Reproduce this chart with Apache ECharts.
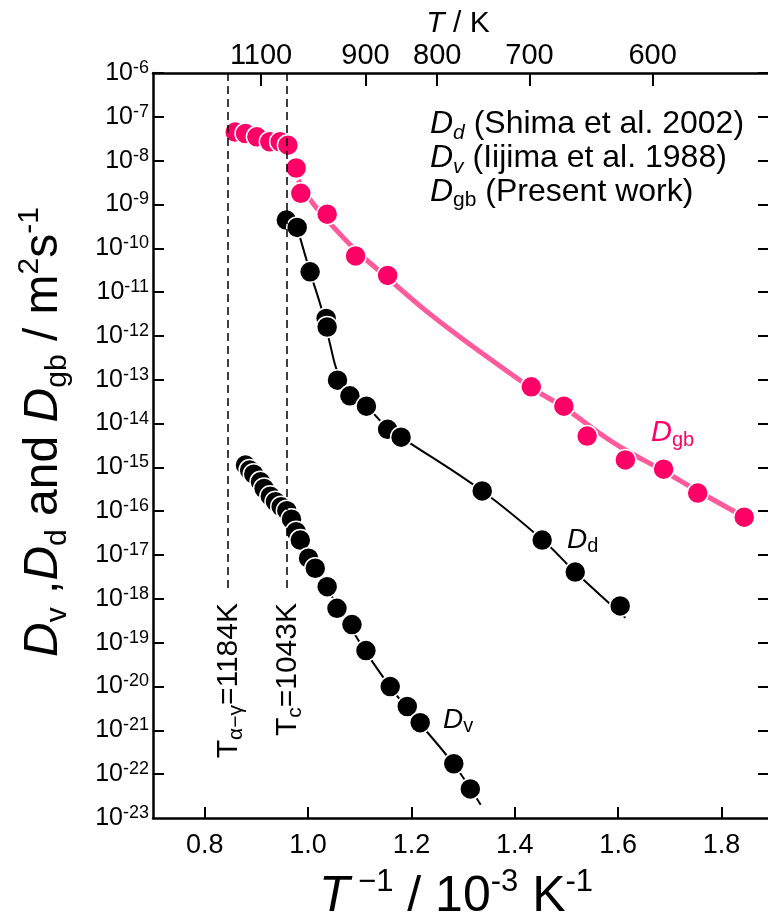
<!DOCTYPE html>
<html>
<head>
<meta charset="utf-8">
<script src="https://cdn.jsdelivr.net/npm/echarts@6/dist/echarts.min.js"></script>
<style>
  html, body { margin: 0; padding: 0; background: #fff; }
  #chart { width: 768px; height: 923px; }
</style>
</head>
<body>
<div id="chart"></div>
<script>
var FONT = '"Liberation Sans", Arial, sans-serif';
var PINK = '#ff0066';
var PINK_LINE = '#ff5a9c';

// x: T^-1 in 10^-3 K^-1, y: D in m^2/s

// D_gb (present work)
var gbX = [0.859, 0.879, 0.901, 0.926, 0.946, 0.961, 0.977, 0.986, 1.037, 1.092, 1.154,
           1.432, 1.495, 1.540, 1.614, 1.688, 1.754, 1.844];
var gbY = [4.5e-8, 4.15e-8, 3.5e-8, 2.7e-8, 2.7e-8, 2.25e-8, 6.8e-9, 1.8e-9, 6.0e-10, 6.7e-11, 2.4e-11,
           6.9e-14, 2.5e-14, 5.2e-15, 1.48e-15, 9.1e-16, 2.6e-16, 7.3e-17];
// fitted D_gb curve
var gbFitX = [0.981, 1.005, 1.037, 1.092, 1.154, 1.217, 1.281, 1.347, 1.432, 1.494, 1.566, 1.614, 1.688, 1.754, 1.844, 1.856];
var gbFitY = [3.6e-9, 1.25e-9, 4.4e-10, 9.1e-11, 2.1e-11, 4.8e-12, 1.23e-12, 3.3e-13, 6.5e-14, 2.4e-14, 5.8e-15, 2.5e-15, 8.3e-16, 2.9e-16, 7.4e-17, 6.3e-17];

// D_d (Shima et al. 2002)
var ddX = [0.958, 0.979, 1.004, 1.035, 1.037, 1.057, 1.081, 1.113, 1.154, 1.180, 1.337, 1.453, 1.517, 1.604];
var ddY = [4.4e-10, 3.0e-10, 2.9e-11, 2.5e-12, 1.6e-12, 9.8e-14, 4.3e-14, 2.5e-14, 7.4e-15, 4.9e-15, 2.9e-16, 2.2e-17, 4.1e-18, 6.9e-19];
var ddFitX = [0.979, 1.004, 1.028, 1.043, 1.057, 1.076, 1.113, 1.154, 1.181, 1.337, 1.454, 1.517, 1.614];
var ddFitY = [3.0e-10, 2.86e-11, 3.5e-12, 6.2e-13, 1.5e-13, 5.8e-14, 2.5e-14, 7.9e-15, 4.8e-15, 2.9e-16, 2.2e-17, 4.1e-18, 3.7e-19];

// D_v (Iijima et al. 1988)
var dvX = [0.879, 0.887, 0.895, 0.908, 0.915, 0.927, 0.937, 0.948, 0.959, 0.968, 0.977, 0.985,
           1.001, 1.014, 1.037, 1.056, 1.085, 1.112, 1.159, 1.192, 1.217, 1.282, 1.314];
var dvY = [1.13e-15, 8.7e-16, 7.0e-16, 4.7e-16, 3.3e-16, 2.2e-16, 1.65e-16, 1.27e-16, 1.03e-16, 6.6e-17, 3.4e-17, 2.2e-17,
           8.5e-18, 5.0e-18, 1.9e-18, 6.1e-19, 2.6e-19, 6.6e-20, 1.0e-20, 3.5e-21, 1.5e-21, 1.73e-22, 4.6e-23];
var dvFitX = [0.977, 1.057, 1.159, 1.281, 1.334];
var dvFitY = [3.7e-17, 6.9e-19, 9.8e-21, 1.73e-22, 2.0e-23];

var xTicks = [0.8, 1.0, 1.2, 1.4, 1.6, 1.8];
var yTicks = [1e-23, 1e-22, 1e-21, 1e-20, 1e-19, 1e-18, 1e-17, 1e-16, 1e-15,
              1e-14, 1e-13, 1e-12, 1e-11, 1e-10, 1e-9, 1e-8, 1e-7, 1e-6];
var topTemps = [1100, 900, 800, 700, 600];        // K
var phaseTemps = [1184, 1043];                    // K
var phaseNames = ['α−γ', 'c'];
var phaseLineBottom = 1.6e-18;

function pairs(xs, ys) {
  return xs.map(function (x, i) { return [x, ys[i]]; });
}

function richSet(F, s, color) {
  return {
    n: { fontFamily: FONT, fontSize: F, lineHeight: F * 1.2, fill: color },
    i: { fontFamily: FONT, fontSize: F, fontStyle: 'italic', lineHeight: F * 1.2, fill: color },
    sp: { fontFamily: FONT, fontSize: s, verticalAlign: 'top', lineHeight: s * 1.05, fill: color },
    sb: { fontFamily: FONT, fontSize: s, verticalAlign: 'bottom', lineHeight: s * 1.05, fill: color },
    sbi: { fontFamily: FONT, fontSize: s, fontStyle: 'italic', verticalAlign: 'bottom', lineHeight: s * 1.05, fill: color }
  };
}

function label(x, y, text, F, s, opts) {
  opts = opts || {};
  var color = opts.color || '#000';
  return {
    type: 'text',
    x: x, y: y,
    rotation: opts.rotation || 0,
    silent: true,
    style: {
      text: text,
      rich: richSet(F, s, color),
      fill: color,
      font: F + 'px ' + FONT,
      align: opts.align || 'left',
      verticalAlign: 'middle'
    }
  };
}

var axisLineStyle = { color: '#000', width: 2.5 };
var tickStyle = { color: '#000', width: 2 };
var topTickValues = topTemps.map(function (t) { return 1000 / t; });

var chart = echarts.init(document.getElementById('chart'));

var option = {
  animation: false,
  backgroundColor: '#fff',
  grid: { left: 153, top: 73, bottom: 105, right: 0, outerBoundsMode: 'none' },
  xAxis: [{
    type: 'value', position: 'bottom', min: 0.7, max: 1.89,
    axisLine: { show: true, onZero: false, lineStyle: axisLineStyle },
    axisTick: { show: true, inside: true, length: 11, lineStyle: tickStyle, customValues: xTicks },
    axisLabel: {
      customValues: xTicks, margin: 14, color: '#000', fontFamily: FONT, fontSize: 27,
      formatter: function (v) { return v.toFixed(1); }
    },
    splitLine: { show: false }
  }, {
    type: 'value', position: 'top', min: 0.7, max: 1.89,
    axisLine: { show: true, onZero: false, lineStyle: axisLineStyle },
    axisTick: { show: true, inside: true, length: 13, lineStyle: tickStyle, customValues: topTickValues },
    axisLabel: {
      customValues: topTickValues, margin: 3,
      color: '#000', fontFamily: FONT, fontSize: 29,
      formatter: function (v) { return String(Math.round(1000 / v)); }
    },
    splitLine: { show: false }
  }],
  yAxis: [{
    type: 'log', logBase: 10, min: 1e-23, max: 1e-6, interval: 1, position: 'left',
    axisLine: { show: true, onZero: false, lineStyle: axisLineStyle },
    axisTick: { show: true, inside: true, length: 11, lineStyle: tickStyle },
    axisLabel: {
      customValues: yTicks,
      margin: 4, color: '#000',
      formatter: function (v) {
        return '{b|10}{s|' + Math.round(Math.log10(v)) + '}';
      },
      rich: {
        b: { fontFamily: FONT, fontSize: 25, lineHeight: 28, color: '#000' },
        s: { fontFamily: FONT, fontSize: 18, lineHeight: 18, verticalAlign: 'top', color: '#000' }
      }
    },
    splitLine: { show: false }
  }, {
    type: 'log', logBase: 10, min: 1e-23, max: 1e-6, interval: 1, position: 'right',
    axisLine: { show: true, onZero: false, lineStyle: { color: '#000', width: 2.5, opacity: 0 } },
    axisTick: { show: true, inside: true, length: 10, lineStyle: tickStyle },
    axisLabel: { show: false },
    splitLine: { show: false }
  }],
  series: [{
    name: 'Dgb fit', type: 'line', data: pairs(gbFitX, gbFitY), smooth: 0.3,
    showSymbol: false, symbol: 'none', silent: true,
    lineStyle: { color: PINK_LINE, width: 5 }, z: 2
  }, {
    name: 'Dd fit', type: 'line', data: pairs(ddFitX, ddFitY), smooth: 0.4,
    showSymbol: false, symbol: 'none', silent: true,
    lineStyle: { color: '#000', width: 2 }, z: 2
  }, {
    name: 'Dv fit', type: 'line', data: pairs(dvFitX, dvFitY), smooth: 0.4,
    showSymbol: false, symbol: 'none', silent: true,
    lineStyle: { color: '#000', width: 2 }, z: 2,
    markLine: {
      silent: true, symbol: 'none', animation: false,
      label: { show: false },
      lineStyle: { color: '#000', width: 1.5, type: [8, 5] },
      data: phaseTemps.map(function (t) {
        return [{ coord: [1000 / t, 1e-6] }, { coord: [1000 / t, phaseLineBottom] }];
      })
    }
  }, {
    name: 'Dgb', type: 'scatter', data: pairs(gbX, gbY), symbolSize: 21,
    itemStyle: { color: PINK, borderColor: '#fff', borderWidth: 1.5, opacity: 1 }, z: 3
  }, {
    name: 'Dd', type: 'scatter', data: pairs(ddX, ddY), symbolSize: 21,
    itemStyle: { color: '#000', borderColor: '#fff', borderWidth: 1.5, opacity: 1 }, z: 3
  }, {
    name: 'Dv', type: 'scatter', data: pairs(dvX, dvY), symbolSize: 21,
    itemStyle: { color: '#000', borderColor: '#fff', borderWidth: 1.5, opacity: 1 }, z: 3
  }]
};

chart.setOption(option);

// text annotations
var els = [
  label(458, 24, '{i|T}{n| / K}', 30, 18, { align: 'center' }),
  label(456, 897, '{i|T}{sp| −1}{n| / 10}{sp|-3}{n| K}{sp|-1}', 50, 31, { align: 'center' }),
  label(44, 432, '{i|D}{sb|v}{n| ,}{i|D}{sb|d}{n| and }{i|D}{sb|gb}{n| / m}{sp|2}{n|s}{sp|-1}', 48, 30,
        { align: 'center', rotation: Math.PI / 2 }),
  label(430, 124, '{i|D}{sbi|d}{n| (Shima et al. 2002)}', 32, 21),
  label(430, 158, '{i|D}{sbi|v}{n| (Iijima et al. 1988)}', 32, 21),
  label(430, 192, '{i|D}{sb|gb}{n| (Present work)}', 32, 21),
  label(651, 433, '{i|D}{sb|gb}', 29, 20, { color: PINK }),
  label(567, 540, '{i|D}{sb|d}', 28, 20),
  label(443, 720, '{i|D}{sb|v}', 28, 20)
];
phaseTemps.forEach(function (t, k) {
  var px = chart.convertToPixel({ xAxisIndex: 0 }, 1000 / t);
  els.push(label(px + 1, 603, '{n|T}{sb|' + phaseNames[k] + '}{n|=' + t + 'K}', 30, 21,
    { align: 'right', rotation: Math.PI / 2 }));
});
chart.setOption({ graphic: { elements: els } });
</script>
</body>
</html>
